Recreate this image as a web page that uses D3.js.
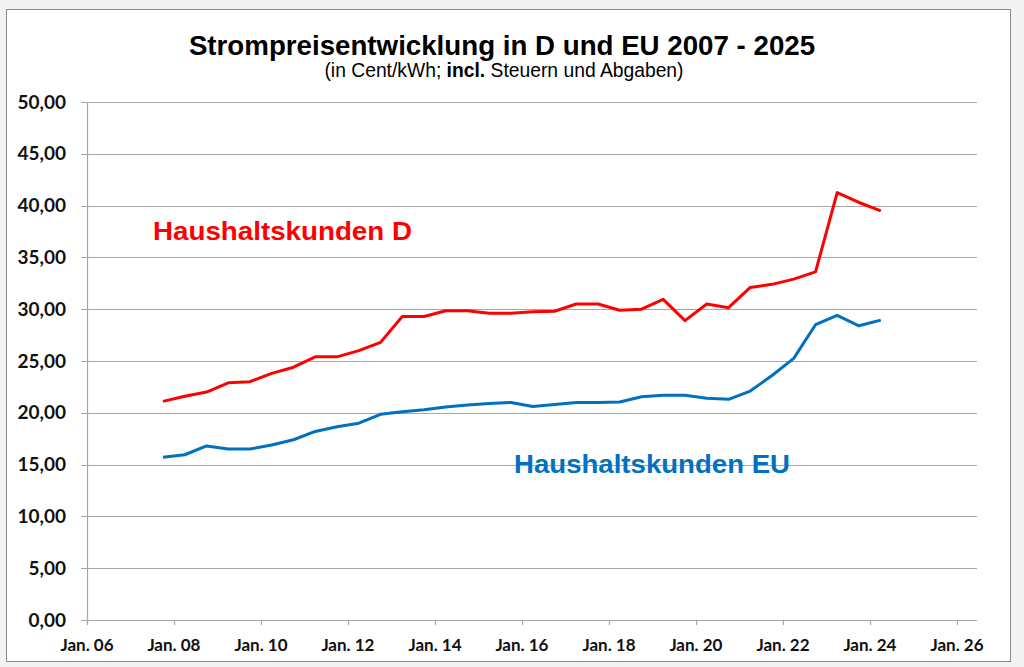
<!DOCTYPE html>
<html>
<head>
<meta charset="utf-8">
<script src="https://cdn.jsdelivr.net/npm/d3@7"></script>
<style>
    body { margin: 0; background: #f3f3f3; }
    svg { display: block; }
</style>
</head>
<body>
<svg id="chart"></svg>
<script>
// Half-year observations (Oct / Apr)
const periods = [
    '2007-10', '2008-04', '2008-10', '2009-04', '2009-10', '2010-04', '2010-10',
    '2011-04', '2011-10', '2012-04', '2012-10', '2013-04', '2013-10', '2014-04',
    '2014-10', '2015-04', '2015-10', '2016-04', '2016-10', '2017-04', '2017-10',
    '2018-04', '2018-10', '2019-04', '2019-10', '2020-04', '2020-10', '2021-04',
    '2021-10', '2022-04', '2022-10', '2023-04', '2023-10', '2024-04'
];
// Haushaltskunden D (Cent/kWh)
const householdD = [
    21.1, 21.6, 22.0, 22.9, 23.0, 23.8, 24.4, 25.4, 25.4, 26.0, 26.8, 29.3,
    29.3, 29.85, 29.85, 29.6, 29.6, 29.75, 29.8, 30.5, 30.5, 29.9, 30.0, 30.95,
    28.9, 30.5, 30.15, 32.1, 32.4, 32.9, 33.6, 41.25, 40.3, 39.5
];
// Haushaltskunden EU (Cent/kWh)
const householdEU = [
    15.7, 15.95, 16.8, 16.5, 16.5, 16.9, 17.4, 18.2, 18.65, 19.0, 19.85, 20.1,
    20.3, 20.55, 20.75, 20.9, 21.0, 20.6, 20.8, 21.0, 21.0, 21.05, 21.55, 21.7,
    21.7, 21.4, 21.3, 22.1, 23.6, 25.25, 28.5, 29.4, 28.4, 28.95
];
const yTicks = [0, 5, 10, 15, 20, 25, 30, 35, 40, 45, 50];
const xTickYears = [2006, 2008, 2010, 2012, 2014, 2016, 2018, 2020, 2022, 2024, 2026];

const width = 1024;
const height = 667;
const plotLeft = 87, plotRight = 957, plotTop = 102, plotBottom = 620;
const arial = '"Liberation Sans", Arial, sans-serif';

const parse = d3.timeParse('%Y-%m');
const dates = periods.map(parse);

const svg = d3.select('#chart')
    .attr('width', width)
    .attr('height', height);

// Frame
svg.append('rect')
    .attr('x', 6.5).attr('y', 9.5)
    .attr('width', 1004).attr('height', 652)
    .attr('fill', '#fff')
    .attr('stroke', '#8c8c8c');

const x = d3.scaleTime()
    .domain([new Date(2006, 0, 1), new Date(2026, 0, 1)])
    .range([plotLeft, plotRight]);

const y = d3.scaleLinear()
    .domain([0, 50])
    .range([plotBottom, plotTop]);

// Gridlines
svg.append('g')
    .selectAll('line')
    .data(yTicks)
    .join('line')
    .attr('x1', plotLeft - 6)
    .attr('x2', 977)
    .attr('y1', d => Math.round(y(d)) + 0.5)
    .attr('y2', d => Math.round(y(d)) + 0.5)
    .attr('stroke', '#a6a6a6')
    .attr('stroke-width', 1.2);

// Y axis line
svg.append('line')
    .attr('x1', plotLeft + 0.5).attr('x2', plotLeft + 0.5)
    .attr('y1', plotTop).attr('y2', plotBottom + 4)
    .attr('stroke', '#a6a6a6')
    .attr('stroke-width', 1.2);

// Y labels
const fmt = d3.formatLocale({ decimal: ',', thousands: '.', grouping: [3], currency: ['', '€'] }).format('.2f');
svg.append('g')
    .selectAll('text')
    .data(yTicks)
    .join('text')
    .attr('x', 66)
    .attr('y', d => y(d) + 6.5)
    .attr('text-anchor', 'end')
    .style('font-family', 'Lato, sans-serif')
    .style('font-weight', 'bold')
    .style('font-size', '19px')
    .attr('fill', '#111')
    .text(d => fmt(d));

// X ticks and labels
const xg = svg.append('g');
xg.selectAll('line')
    .data(xTickYears)
    .join('line')
    .attr('x1', d => Math.round(x(new Date(d, 0, 1))) + 0.5)
    .attr('x2', d => Math.round(x(new Date(d, 0, 1))) + 0.5)
    .attr('y1', plotBottom)
    .attr('y2', plotBottom + 5)
    .attr('stroke', '#a6a6a6')
    .attr('stroke-width', 1.2);
xg.selectAll('text')
    .data(xTickYears)
    .join('text')
    .attr('x', d => x(new Date(d, 0, 1)))
    .attr('y', 651)
    .attr('text-anchor', 'middle')
    .style('font-family', 'Lato, sans-serif')
    .style('font-weight', 'bold')
    .style('font-size', '17px')
    .attr('fill', '#111')
    .text(d => 'Jan. ' + String(d % 100).padStart(2, '0'));

// Lines
const line = values => d3.line()
    .x((d, i) => x(dates[i]))
    .y(d => y(d))(values);

svg.append('path')
    .attr('d', line(householdEU))
    .attr('fill', 'none')
    .attr('stroke', '#0070c0')
    .attr('stroke-width', 3)
    .attr('stroke-linejoin', 'round');

svg.append('path')
    .attr('d', line(householdD))
    .attr('fill', 'none')
    .attr('stroke', '#ff0000')
    .attr('stroke-width', 3)
    .attr('stroke-linejoin', 'round');

// Series labels
svg.append('text')
    .attr('x', 153).attr('y', 240)
    .attr('textLength', 259)
    .attr('lengthAdjust', 'spacingAndGlyphs')
    .style('font-family', arial)
    .style('font-weight', 'bold')
    .style('font-size', '26px')
    .attr('fill', '#ff0000')
    .text('Haushaltskunden D');

svg.append('text')
    .attr('x', 514).attr('y', 473)
    .attr('textLength', 276)
    .attr('lengthAdjust', 'spacingAndGlyphs')
    .style('font-family', arial)
    .style('font-weight', 'bold')
    .style('font-size', '26px')
    .attr('fill', '#0070c0')
    .text('Haushaltskunden EU');

// Title
svg.append('text')
    .attr('x', 502).attr('y', 55)
    .attr('text-anchor', 'middle')
    .style('font-family', arial)
    .style('font-weight', 'bold')
    .style('font-size', '27.7px')
    .attr('fill', '#000')
    .text('Strompreisentwicklung in D und EU 2007 - 2025');

const sub = svg.append('text')
    .attr('x', 504).attr('y', 77)
    .attr('text-anchor', 'middle')
    .style('font-family', arial)
    .style('font-size', '19.3px')
    .attr('fill', '#000');
sub.append('tspan').text('(in Cent/kWh; ');
sub.append('tspan').style('font-weight', 'bold').text('incl.');
sub.append('tspan').text(' Steuern und Abgaben)');
</script>
</body>
</html>
